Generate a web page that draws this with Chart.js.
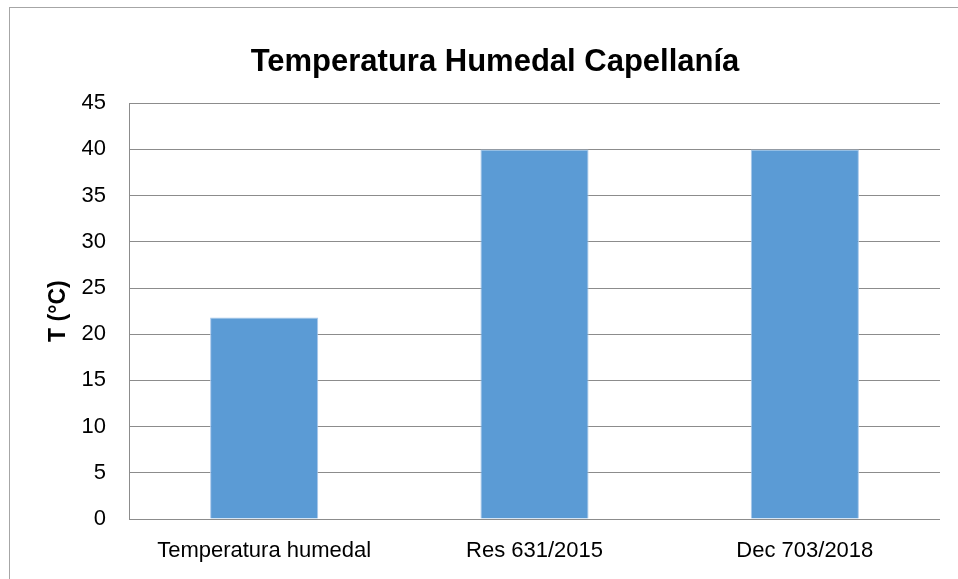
<!DOCTYPE html>
<html>
<head>
<meta charset="utf-8">
<script src="https://cdn.jsdelivr.net/npm/chart.js@4"></script>
<style>
    body { margin: 0; background: #fff; }
    #wrap { position: relative; width: 958px; height: 579px; overflow: hidden; }
    #frame { position: absolute; left: 9px; top: 7px; width: 980px; height: 600px; border: 1px solid #a6a6a6; }
    canvas { position: absolute; left: 0; top: 0; }
</style>
</head>
<body>
<div id="wrap">
    <div id="frame"></div>
    <canvas id="tempChart" width="958" height="579"></canvas>
</div>
<script>
// Datos del gráfico
const categories = ["Temperatura humedal", "Res 631/2015", "Dec 703/2018"];
const tempValues = [21.8, 40, 40];
const yTicks = [0, 5, 10, 15, 20, 25, 30, 35, 40, 45];

const narrow = "'Liberation Sans Narrow', 'Arial Narrow', 'Liberation Sans', Arial, sans-serif";

const ctx = document.getElementById('tempChart');

new Chart(ctx, {
    type: 'bar',
    data: {
        labels: categories,
        datasets: [{
            data: tempValues,
            backgroundColor: '#5b9bd5',
            borderColor: '#a9c8ea',
            borderWidth: 1,
            barPercentage: 0.4,
            categoryPercentage: 1
        }]
    },
    options: {
        responsive: false,
        animation: false,
        layout: {
            padding: { left: 50, right: 18, top: 0, bottom: 12 }
        },
        plugins: {
            legend: { display: false },
            tooltip: { enabled: false },
            title: {
                display: true,
                text: 'Temperatura Humedal Capellanía',
                color: '#000',
                font: { family: narrow, size: 31, weight: 'bold' },
                padding: { top: 44, bottom: 22 }
            }
        },
        scales: {
            x: {
                afterFit: (scale) => {
                    scale.height = 48;
                },
                grid: { display: false, drawTicks: false },
                border: { display: false },
                ticks: {
                    color: '#000',
                    font: { family: narrow, size: 22 },
                    padding: 19,
                    maxRotation: 0
                }
            },
            y: {
                min: 0,
                max: 45,
                afterBuildTicks: (scale) => {
                    scale.ticks = yTicks.map(v => ({ value: v }));
                },
                afterFit: (scale) => {
                    scale.width = 79;
                },
                grid: {
                    color: '#8c8c8c',
                    lineWidth: 1,
                    drawTicks: false
                },
                border: { display: true, color: '#8c8c8c', width: 1 },
                ticks: {
                    color: '#000',
                    font: { family: narrow, size: 22 },
                    padding: 23
                },
                title: {
                    display: true,
                    text: 'T (°C)',
                    color: '#000',
                    font: { family: narrow, size: 23, weight: 'bold' },
                    padding: { top: -5, bottom: 0 }
                }
            }
        }
    }
});
</script>
</body>
</html>
